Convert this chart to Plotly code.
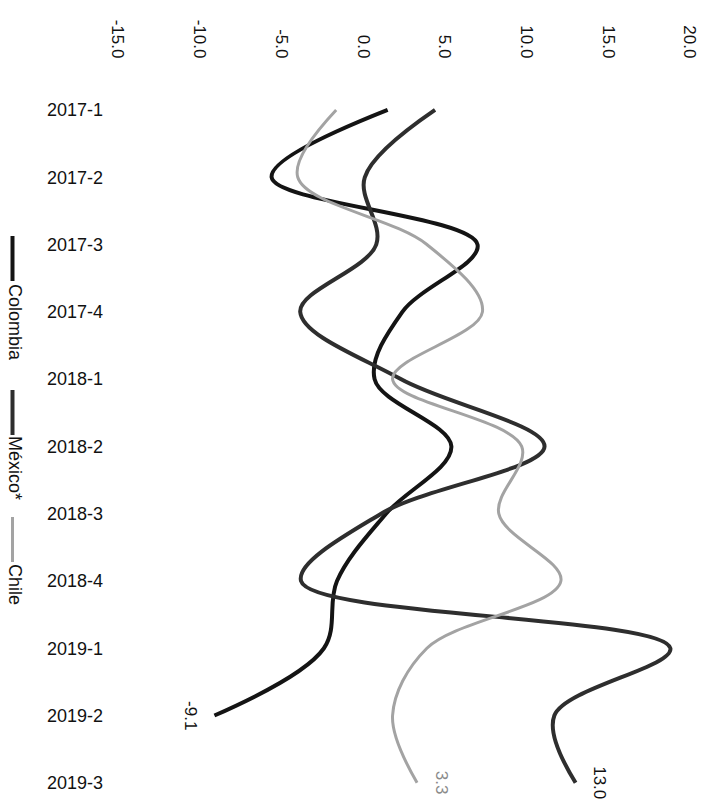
import plotly.graph_objects as go

# Quarterly series (percent)
quarters = ["2017-1", "2017-2", "2017-3", "2017-4", "2018-1", "2018-2",
            "2018-3", "2018-4", "2019-1", "2019-2", "2019-3"]
colombia = [1.5, -5.6, 7.0, 2.4, 0.7, 5.4, 1.4, -1.6, -2.4, -9.1]
mexico = [4.4, 0.1, 0.8, -3.85, 2.3, 11.1, 1.1, -3.8, 18.8, 11.7, 13.0]
chile = [-1.65, -4.0, 3.9, 7.3, 1.8, 9.7, 8.3, 12.1, 3.9, 1.8, 3.3]

value_ticks = [-15, -10, -5, 0, 5, 10, 15, 20]
value_tick_labels = [f"{v:.1f}" for v in value_ticks]

W, H = 704, 803
M_L, M_R, M_T, M_B = 118, 14, 62, 0
FONT = "Arial, 'Liberation Sans', sans-serif"

series = [
    ("Colombia", colombia, "#141414", 4.0),
    ("México*", mexico, "#2e2e2e", 4.0),
    ("Chile", chile, "#a3a3a3", 3.0),
]

fig = go.Figure()
for name, vals, color, width in series:
    fig.add_trace(go.Scatter(
        x=vals, y=quarters[:len(vals)], name=name, mode="lines",
        line=dict(color=color, width=width, shape="spline", smoothing=1.0),
        showlegend=False,
    ))

# End-of-series value labels
for name, vals, color, width in series:
    last = vals[-1]
    fig.add_annotation(
        x=last, y=quarters[len(vals) - 1], xref="x", yref="y",
        text=f"{last:.1f}", textangle=90, showarrow=False,
        xanchor="center", yanchor="middle",
        xshift=-24 if last < 0 else 24,
        font=dict(family=FONT, size=17,
                  color="#8a8a8a" if name == "Chile" else "#111111"),
    )

# Rotated legend on the left edge
def px_to_paper_x(px):
    return (px - M_L) / (W - M_L - M_R)

def px_to_paper_y(py):
    return 1 - (py - M_T) / (H - M_T - M_B)

legend_rows = [("Colombia", "#141414", 236, 4.0), ("México*", "#2e2e2e", 390, 4.0),
               ("Chile", "#a3a3a3", 517, 3.0)]
for name, color, top, width in legend_rows:
    fig.add_shape(type="line", xref="paper", yref="paper",
                  x0=px_to_paper_x(12.5), x1=px_to_paper_x(12.5),
                  y0=px_to_paper_y(top), y1=px_to_paper_y(top + 45),
                  line=dict(color=color, width=width))
    text_len = {"Colombia": 80, "México*": 64, "Chile": 42}[name]
    fig.add_annotation(
        x=px_to_paper_x(15), y=px_to_paper_y(top + 46 + text_len / 2),
        xref="paper", yref="paper", text=name, textangle=90, showarrow=False,
        xanchor="center", yanchor="middle",
        font=dict(family=FONT, size=18, color="#111111"),
    )

fig.update_layout(
    width=W, height=H, autosize=False,
    margin=dict(l=M_L, r=M_R, t=M_T, b=M_B, pad=0),
    paper_bgcolor="white", plot_bgcolor="white",
    font=dict(family=FONT, size=17, color="#111111"),
    xaxis=dict(
        side="top", range=[-15, 20], tickvals=value_ticks,
        ticktext=value_tick_labels, tickangle=90, showgrid=False,
        zeroline=False, showline=False, ticks="",
        tickfont=dict(family=FONT, size=17, color="#111111"),
    ),
    yaxis=dict(
        type="category", categoryorder="array", categoryarray=quarters,
        range=[10.3, -0.713], showgrid=False, zeroline=False,
        showline=False, ticks="", ticklabelstandoff=14,
        tickfont=dict(family=FONT, size=18, color="#111111"),
    ),
)

fig.write_html("out.html")
